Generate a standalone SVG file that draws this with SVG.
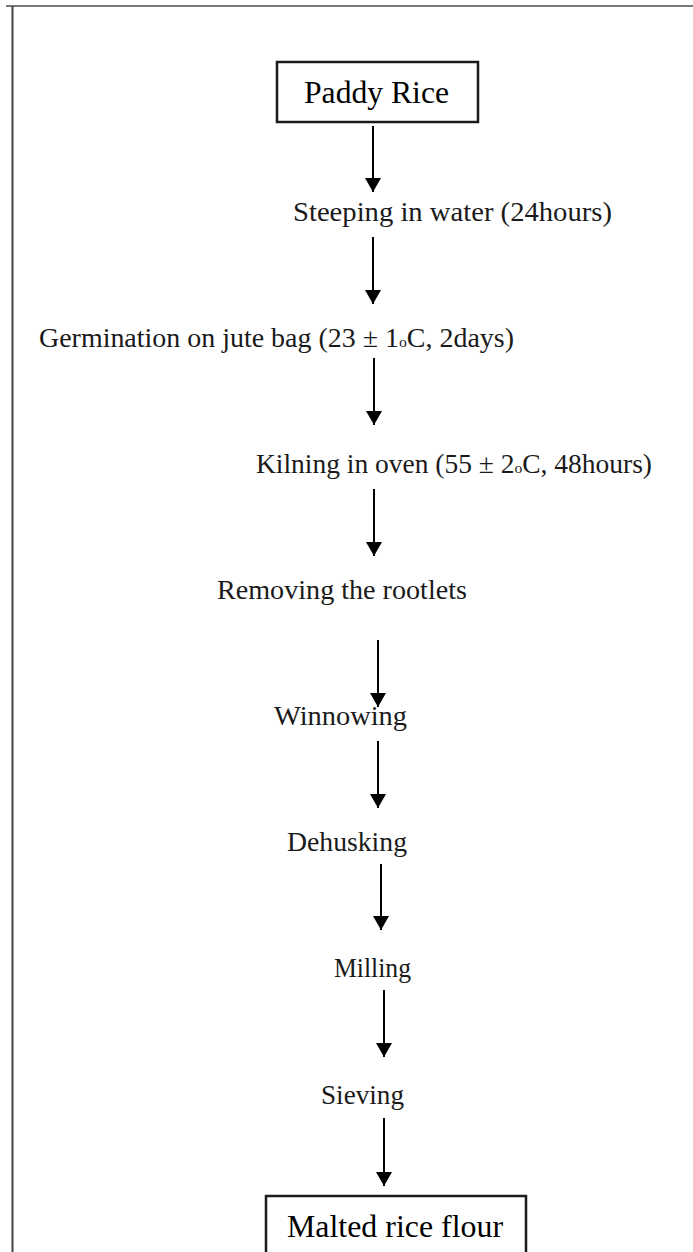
<svg xmlns="http://www.w3.org/2000/svg" width="693" height="1252" viewBox="0 0 693 1252">
<style>
.step{font-family:"Liberation Serif","DejaVu Serif",serif;font-size:26.5px;fill:#1a1a1a}
.term{font-family:"Liberation Serif","Times New Roman",serif;font-size:32px;fill:#000}
.box{fill:#fff;stroke:#1a1a1a;stroke-width:2.5}
.conn line{stroke:#000;stroke-width:2}
.deg{font-size:15px}
</style>
<defs>
<marker id="ah" markerWidth="7" markerHeight="8" refX="7" refY="4" orient="auto" markerUnits="strokeWidth">
<path d="M0,0 L7,4 L0,8 Z" fill="#000"/>
</marker>
</defs>
<rect width="693" height="1252" fill="#fff"/>
<path d="M6,6 H693" fill="none" stroke="#777" stroke-width="2"/>
<path d="M12.5,1252 V6" fill="none" stroke="#444" stroke-width="2"/>
<g id="n-paddy"><rect class="box" x="277" y="62" width="201" height="60"/><text class="term" x="304" y="103" textLength="145" lengthAdjust="spacingAndGlyphs">Paddy Rice</text></g>
<g id="n-steep"><text class="step" x="293" y="221" textLength="319" lengthAdjust="spacingAndGlyphs">Steeping in water (24hours)</text></g>
<g id="n-germ"><text class="step" x="39" y="347" textLength="475" lengthAdjust="spacingAndGlyphs">Germination on jute bag (23 ± 1<tspan class="deg">o</tspan>C, 2days)</text></g>
<g id="n-kiln"><text class="step" x="256" y="473" textLength="396" lengthAdjust="spacingAndGlyphs">Kilning in oven (55 ± 2<tspan class="deg">o</tspan>C, 48hours)</text></g>
<g id="n-root"><text class="step" x="217" y="599" textLength="250" lengthAdjust="spacingAndGlyphs">Removing the rootlets</text></g>
<g id="n-winn"><text class="step" x="274" y="725" textLength="133" lengthAdjust="spacingAndGlyphs">Winnowing</text></g>
<g id="n-dehu"><text class="step" x="287" y="851" textLength="120" lengthAdjust="spacingAndGlyphs">Dehusking</text></g>
<g id="n-mill"><text class="step" x="334" y="977" textLength="77" lengthAdjust="spacingAndGlyphs">Milling</text></g>
<g id="n-siev"><text class="step" x="321" y="1104" textLength="83" lengthAdjust="spacingAndGlyphs">Sieving</text></g>
<g id="n-malt"><rect class="box" x="266" y="1196" width="260" height="60"/><text class="term" x="287" y="1237" textLength="216" lengthAdjust="spacingAndGlyphs">Malted rice flour</text></g>
<g class="conn" id="connectors">
<line x1="373" y1="126" x2="373" y2="192" marker-end="url(#ah)"/>
<line x1="373" y1="237" x2="373" y2="304" marker-end="url(#ah)"/>
<line x1="374" y1="358" x2="374" y2="425" marker-end="url(#ah)"/>
<line x1="374" y1="489" x2="374" y2="556" marker-end="url(#ah)"/>
<line x1="378" y1="640" x2="378" y2="707" marker-end="url(#ah)"/>
<line x1="378" y1="741" x2="378" y2="808" marker-end="url(#ah)"/>
<line x1="381" y1="864" x2="381" y2="930" marker-end="url(#ah)"/>
<line x1="384" y1="990" x2="384" y2="1057" marker-end="url(#ah)"/>
<line x1="384" y1="1118" x2="384" y2="1186" marker-end="url(#ah)"/>
</g>
</svg>
